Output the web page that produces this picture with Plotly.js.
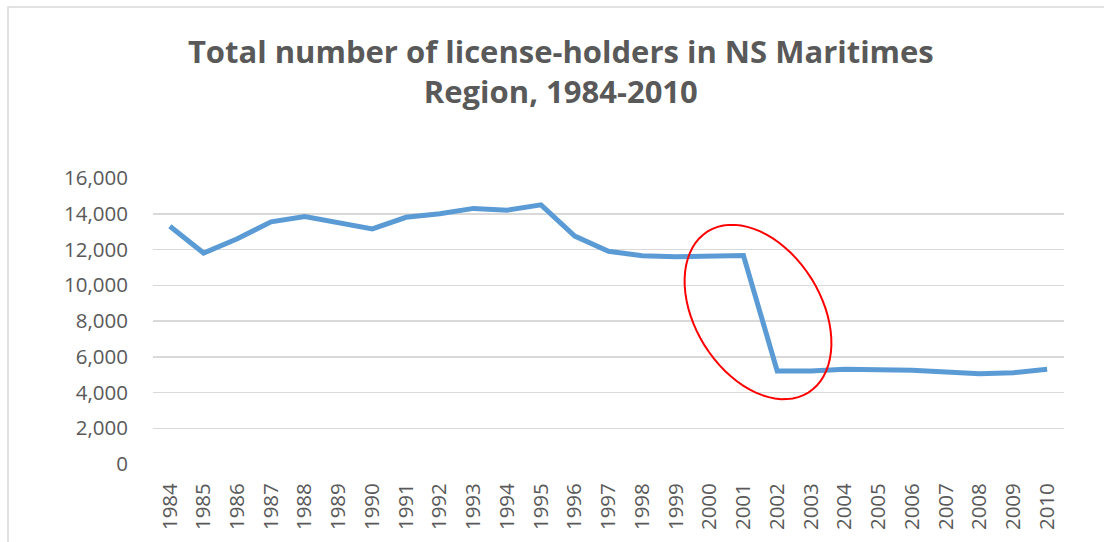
<!DOCTYPE html>
<html><head><meta charset="utf-8">
<script src="https://cdn.plot.ly/plotly-3.0.1.min.js"></script>
<style>html,body{margin:0;padding:0;background:#fff}#chart{width:1104px;height:542px}</style>
</head><body><div id="chart"></div>
<script>
const years = ['1984','1985','1986','1987','1988','1989','1990','1991','1992','1993','1994','1995','1996','1997','1998','1999','2000','2001','2002','2003','2004','2005','2006','2007','2008','2009','2010'];
const licenseHolders = [13300, 11800, 12600, 13550, 13850, 13520, 13150, 13800, 14000, 14300, 14200, 14500, 12750, 11900, 11650, 11600, 11600, 11660, 5200, 5200, 5300, 5280, 5250, 5150, 5050, 5110, 5300];
const yTickValues = [0, 2000, 4000, 6000, 8000, 10000, 12000, 14000, 16000];
const yTickLabels = ['0', '2,000', '4,000', '6,000', '8,000', '10,000', '12,000', '14,000', '16,000'];
const chartTitle = 'Total number of license-holders in NS Maritimes<br>Region, 1984-2010';

const W = 1104, H = 542;
const M = {l: 153, r: 40, t: 178, b: 78};
const pw = W - M.l - M.r, ph = H - M.t - M.b;
function toPaper(x, y) { return [(x - M.l) / pw, (H - M.b - y) / ph]; }

// highlight ellipse (annotation), in pixel geometry
const cx = 758, cy = 312, ra = 95, rb = 63, th = 58 * Math.PI / 180;
let path = '';
for (let i = 0; i <= 72; i++) {
  const p = i / 72 * 2 * Math.PI;
  const x = cx + ra * Math.cos(p) * Math.cos(th) - rb * Math.sin(p) * Math.sin(th);
  const y = cy + ra * Math.cos(p) * Math.sin(th) + rb * Math.sin(p) * Math.cos(th);
  const q = toPaper(x, y);
  path += (i === 0 ? 'M' : 'L') + q[0].toFixed(5) + ',' + q[1].toFixed(5);
}
path += 'Z';

const f0 = toPaper(8, 7), f1 = toPaper(1130, 580);

const trace = {
  type: 'scatter', mode: 'lines', x: years, y: licenseHolders,
  line: {color: '#5b9bd5', width: 5, shape: 'linear'},
  hoverinfo: 'x+y'
};

const layout = {
  width: W, height: H,
  margin: M,
  paper_bgcolor: '#fff', plot_bgcolor: '#fff',
  showlegend: false,
  font: {family: 'Open Sans, sans-serif', color: '#595959'},
  title: {
    text: chartTitle,
    font: {family: 'Open Sans, sans-serif', size: 31, color: '#595959', weight: 'bold'},
    xref: 'container', yref: 'container', x: 0.508, xanchor: 'center',
    y: 1 - 63 / H, yanchor: 'top'
  },
  xaxis: {
    type: 'category', tickangle: -90, range: [-0.5, years.length - 0.5],
    tickfont: {size: 20.5, color: '#595959'},
    showgrid: false, zeroline: false, showline: false,
    ticks: 'outside', ticklen: 10, tickcolor: 'rgba(0,0,0,0)',
    fixedrange: true
  },
  yaxis: {
    range: [0, 16000], tickvals: yTickValues, ticktext: yTickLabels,
    tickfont: {size: 20.5, color: '#595959'},
    showgrid: true, gridcolor: '#d9d9d9', gridwidth: 1.5,
    zeroline: false, showline: false,
    ticks: 'outside', ticklen: 20, tickcolor: 'rgba(0,0,0,0)',
    fixedrange: true
  },
  shapes: [
    {type: 'rect', xref: 'paper', yref: 'paper', x0: f0[0], y0: f1[1], x1: f1[0], y1: f0[1],
     line: {color: '#d9d9d9', width: 1.5}, fillcolor: 'rgba(0,0,0,0)', layer: 'below'},
    {type: 'path', xref: 'paper', yref: 'paper', path: path,
     line: {color: '#ff0000', width: 2}, fillcolor: 'rgba(0,0,0,0)'}
  ]
};

Plotly.newPlot('chart', [trace], layout, {displayModeBar: false, staticPlot: true});
</script>
</body></html>
